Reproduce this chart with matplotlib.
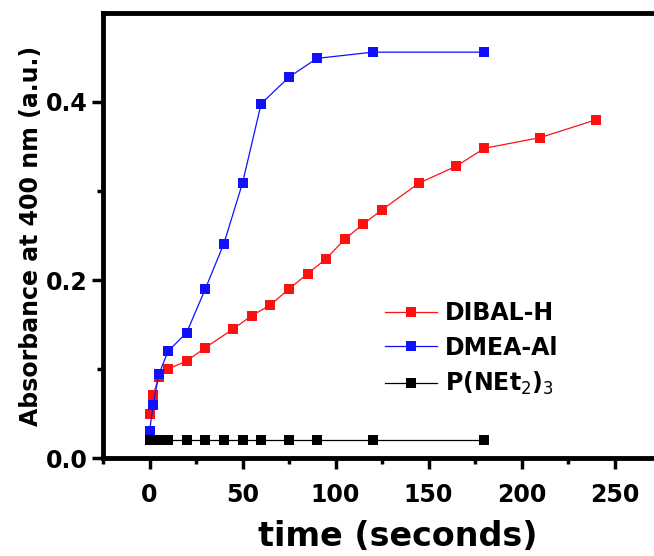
import matplotlib
matplotlib.use("Agg")
import matplotlib.pyplot as plt
from matplotlib.ticker import MultipleLocator, FixedLocator, FormatStrFormatter

# Absorbance at 400 nm versus time for the three reducing agents.
dibal_t = [0, 2, 5, 10, 20, 30, 45, 55, 65, 75, 85, 95, 105, 115, 125, 145, 165, 180, 210, 240]
dibal_abs = [0.049, 0.071, 0.091, 0.100, 0.109, 0.124, 0.145, 0.160, 0.172, 0.190,
             0.207, 0.224, 0.246, 0.263, 0.279, 0.309, 0.328, 0.348, 0.360, 0.380]

dmea_t = [0, 2, 5, 10, 20, 30, 40, 50, 60, 75, 90, 120, 180]
dmea_abs = [0.030, 0.060, 0.094, 0.120, 0.141, 0.190, 0.241, 0.309, 0.398, 0.428,
            0.449, 0.456, 0.456]

pnet_t = [0, 2, 4, 6, 8, 10, 20, 30, 40, 50, 60, 75, 90, 120, 180]
pnet_abs = [0.02, 0.02, 0.02, 0.02, 0.02, 0.02, 0.02, 0.02, 0.02, 0.02, 0.02, 0.02,
            0.02, 0.02, 0.02]

labels = ["DIBAL-H", "DMEA-Al", r"P(NEt$_2$)$_3$"]
colors = ["#ff1010", "#1010ff", "#000000"]

plt.rcParams["font.family"] = ["DejaVu Sans"]

fig = plt.figure(figsize=(6.54, 5.56), dpi=100)
# Axes run past the right edge of the figure, so the right spine is cut off.
ax = fig.add_axes([103 / 654, 98 / 556, 586 / 654, 445 / 556])

series = [(dibal_t, dibal_abs), (dmea_t, dmea_abs), (pnet_t, pnet_abs)]
for (t, a), lab, col in zip(series, labels, colors):
    ax.plot(t, a, color=col, marker="s", markersize=7.5, linewidth=0.9,
            markeredgewidth=0, label=lab)

ax.set_xlim(-25, 290)
ax.set_ylim(0, 0.5)
ax.xaxis.set_major_locator(MultipleLocator(50))
ax.xaxis.set_minor_locator(MultipleLocator(25))
ax.yaxis.set_major_locator(MultipleLocator(0.2))
ax.yaxis.set_minor_locator(FixedLocator([0.1, 0.3]))
ax.yaxis.set_major_formatter(FormatStrFormatter("%.1f"))

for spine in ax.spines.values():
    spine.set_linewidth(3.5)
ax.tick_params(which="major", direction="out", length=8, width=2.5, labelsize=17)
ax.tick_params(which="minor", direction="out", length=4, width=2.5)
ax.tick_params(axis="x", which="major", pad=10)
ax.tick_params(axis="y", which="major", pad=3)
for lbl in ax.get_xticklabels() + ax.get_yticklabels():
    lbl.set_fontweight("bold")

# x label centred under the visible part of the plot
fig.text(398 / 654, 1 - 536 / 556, "time (seconds)", fontsize=24,
         fontweight="bold", ha="center", va="center")
ax.set_ylabel("Absorbance at 400 nm (a.u.)", fontsize=17, fontweight="bold",
              labelpad=2)

leg = ax.legend(loc="upper left", bbox_to_anchor=(385 / 654, 1 - 301 / 556),
                bbox_transform=fig.transFigure, frameon=False, numpoints=1,
                borderpad=0, borderaxespad=0, handlelength=2.2,
                handletextpad=0.35, labelspacing=0.45,
                prop={"size": 17, "weight": "bold"})

fig.savefig("out.png", dpi=100)
